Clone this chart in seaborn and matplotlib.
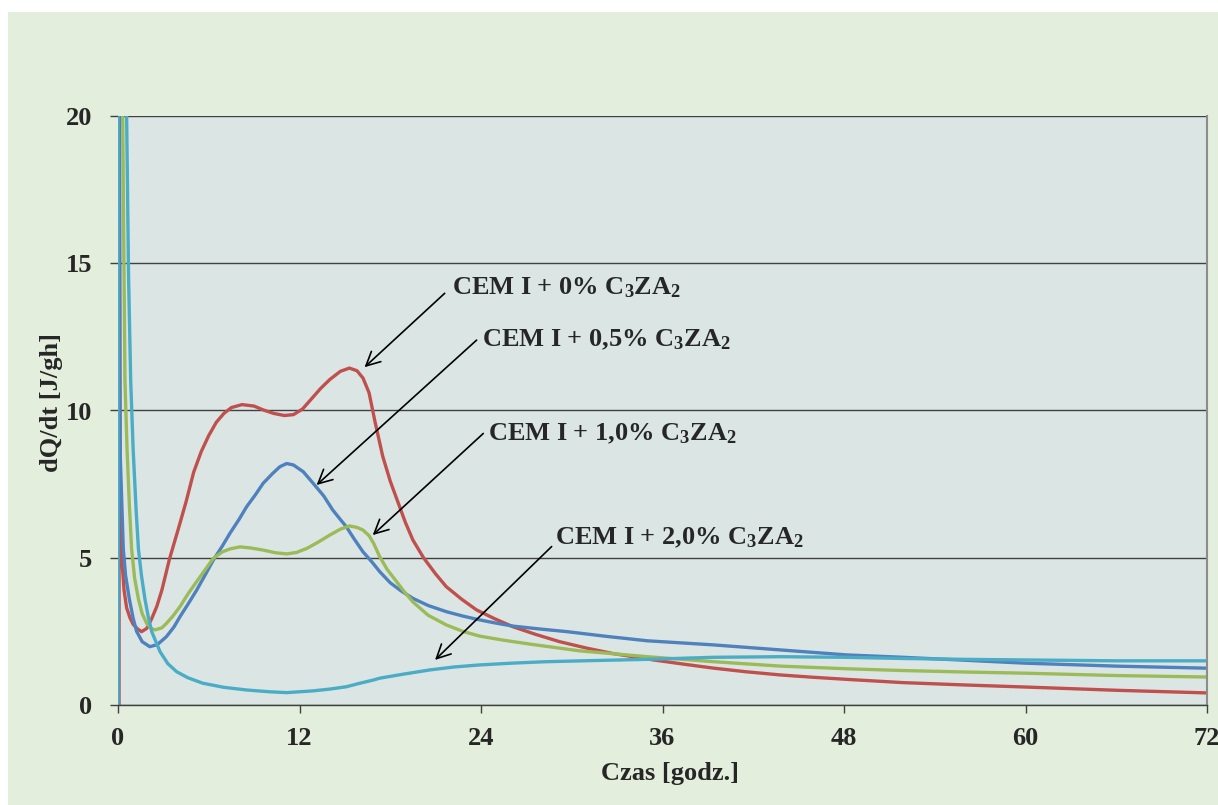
import pandas as pd
import matplotlib
matplotlib.use("Agg")
import matplotlib.pyplot as plt
from matplotlib.patches import Rectangle
import seaborn as sns

# Heat flow curves (time in h, dQ/dt in J/gh)
series_names = ['CEM I + 0%', 'CEM I + 0,5%', 'CEM I + 1,0%', 'CEM I + 2,0%']
series_colors = ['#c0504d', '#4f81bd', '#9bbb59', '#4bacc6']

t_0 = [0.07, 0.08, 0.14, 0.25, 0.4, 0.57, 0.8, 1.0, 1.3, 1.56, 1.9, 2.2, 2.56, 2.9,
       3.4, 4.0, 4.5, 5.0, 5.5, 6.0, 6.5, 7.0, 7.5, 8.2, 9.0, 9.6, 10.3, 11.0, 11.6,
       12.2, 12.8, 13.4, 14.0, 14.7, 15.3, 15.8, 16.2, 16.6, 17.0, 17.5, 18.0, 18.5,
       19.0, 19.5, 20.2, 21.0, 21.7, 22.7, 23.7, 24.9, 26.1, 27.6, 29.2, 31.0, 32.7,
       35.4, 37.5, 39.4, 41.5, 43.8, 46.0, 48.2, 51.9, 56, 60, 66, 72]
q_0 = [0, 22, 8.0, 5.0, 3.9, 3.3, 2.95, 2.74, 2.58, 2.49, 2.6, 2.9, 3.34, 3.9,
       4.95, 6.0, 6.9, 7.9, 8.6, 9.15, 9.6, 9.9, 10.1, 10.2, 10.15, 10.02, 9.9, 9.83, 9.86,
       10.05, 10.4, 10.75, 11.05, 11.33, 11.44, 11.35, 11.1, 10.6, 9.6, 8.45, 7.6, 6.9,
       6.2, 5.6, 5.0, 4.45, 4.02, 3.6, 3.23, 2.93, 2.66, 2.4, 2.15, 1.93, 1.75,
       1.53, 1.38, 1.25, 1.13, 1.02, 0.94, 0.87, 0.76, 0.68, 0.61, 0.5, 0.41]

t_05 = [0.02, 0.03, 0.09, 0.12, 0.14, 0.35, 0.5, 0.75, 1.0, 1.23, 1.6, 2.1, 2.6, 3.2,
        3.7, 4.1, 4.6, 5.2, 5.8, 6.3, 6.9, 7.4, 8.0, 8.5, 9.1, 9.6, 10.2, 10.7, 11.15,
        11.6, 12.25, 12.9, 13.6, 14.2, 14.7, 15.1, 15.6, 16.2, 16.8, 17.3, 18.0, 18.7,
        19.5, 20.5, 21.7, 22.8, 23.9, 25.0, 26.1, 27.9, 29.7, 32.3, 35.0, 39.4, 43.8,
        48.2, 51.9, 56, 60, 66, 72]
q_05 = [0, 24, 20, 11, 8.6, 5.3, 4.4, 3.6, 2.95, 2.5, 2.15, 1.98, 2.05, 2.32,
        2.65, 3.0, 3.4, 3.9, 4.45, 4.92, 5.4, 5.83, 6.3, 6.73, 7.15, 7.53, 7.85, 8.09, 8.2,
        8.15, 7.92, 7.53, 7.1, 6.62, 6.3, 6.05, 5.65, 5.2, 4.85, 4.53, 4.15, 3.88,
        3.62, 3.38, 3.17, 3.02, 2.89, 2.78, 2.68, 2.58, 2.49, 2.33, 2.18, 2.04, 1.87,
        1.70, 1.62, 1.52, 1.42, 1.32, 1.25]

t_10 = [0.25, 0.31, 0.46, 0.6, 0.75, 0.9, 1.1, 1.35, 1.6, 1.9, 2.2, 2.45, 2.9, 3.2,
        3.6, 4.1, 4.6, 5.2, 5.8, 6.3, 6.9, 7.4, 8.07, 8.8, 9.6, 10.4, 11.15, 11.8, 12.5,
        13.3, 14.0, 14.7, 15.3, 15.8, 16.2, 16.6, 16.9, 17.3, 17.8, 18.4, 19.0, 19.5,
        20.5, 21.7, 22.8, 23.9, 25.5, 27.2, 30.5, 35.0, 39.4, 43.8, 48.2, 51.9, 56,
        60, 66, 72]
q_10 = [25, 20, 11, 8.66, 6.8, 5.3, 4.3, 3.6, 3.1, 2.77, 2.6, 2.55, 2.62, 2.77,
        3.0, 3.34, 3.75, 4.19, 4.62, 4.98, 5.2, 5.3, 5.37, 5.33, 5.26, 5.17, 5.13, 5.18, 5.32,
        5.55, 5.77, 5.97, 6.08, 6.03, 5.94, 5.75, 5.49, 5.04, 4.6, 4.2, 3.8, 3.5,
        3.05, 2.72, 2.5, 2.34, 2.2, 2.07, 1.84, 1.64, 1.47, 1.32, 1.23, 1.17, 1.12,
        1.08, 1.0, 0.95]

t_20 = [0.0, 0.01, 0.57, 0.7, 0.84, 1.0, 1.2, 1.35, 1.55, 1.78, 2.0, 2.23, 2.78, 3.3,
        3.88, 4.6, 5.6, 7.0, 8.5, 10.0, 11.15, 12.9, 14.0, 15.1, 16.0, 16.9, 17.3, 18.9,
        20.6, 22.2, 23.9, 26.0, 28.3, 31.5, 35.0, 39.4, 43.8, 48.0, 51.9, 56, 60, 66, 72]
q_20 = [0, 25, 20, 14.5, 11, 8.7, 6.6, 5.3, 4.4, 3.6, 3.0, 2.49, 1.81, 1.4,
        1.13, 0.93, 0.74, 0.6, 0.51, 0.45, 0.42, 0.48, 0.54, 0.62, 0.74, 0.85, 0.91, 1.05,
        1.19, 1.29, 1.36, 1.42, 1.47, 1.51, 1.55, 1.62, 1.64, 1.62, 1.58, 1.55, 1.53, 1.5, 1.5]

x_ticks = [0, 12, 24, 36, 48, 60, 72]
y_ticks = [0, 5, 10, 15, 20]

frames = []
for name, t, q in zip(series_names, [t_0, t_05, t_10, t_20], [q_0, q_05, q_10, q_20]):
    frames.append(pd.DataFrame({'t': t, 'q': q, 'series': name}))
df = pd.concat(frames, ignore_index=True)

sns.set_style("white")
plt.rcParams['font.family'] = ['Liberation Serif', 'DejaVu Serif']
plt.rcParams['font.weight'] = 'bold'
plt.rcParams['mathtext.fontset'] = 'custom'
plt.rcParams['mathtext.rm'] = 'Liberation Serif:bold'
plt.rcParams['mathtext.it'] = 'Liberation Serif:bold'
plt.rcParams['mathtext.bf'] = 'Liberation Serif:bold'
plt.rcParams['mathtext.default'] = 'rm'

fig = plt.figure(figsize=(12.18, 8.05), dpi=100, facecolor='white')
fig.add_artist(Rectangle((8 / 1218, 0), 1, (805 - 12) / 805, transform=fig.transFigure,
                         facecolor='#e4eedc', edgecolor='none', zorder=-10))
ax = fig.add_axes([118 / 1218, 1 - 705 / 805, 1089 / 1218, 589 / 805])
ax.set_facecolor('#dbe6e4')

sns.lineplot(data=df, x='t', y='q', hue='series', palette=series_colors,
             estimator=None, sort=False, lw=2.4, legend=False, ax=ax)

ax.set_xlim(0, 72)
ax.set_ylim(0, 20)
ax.set_xticks(x_ticks)
ax.set_yticks(y_ticks)
ax.yaxis.grid(True, color='#404040', lw=1)
ax.set_axisbelow(True)
for side in ['left', 'top']:
    ax.spines[side].set_visible(False)
ax.spines['right'].set_color('#8c8c8c')
ax.spines['right'].set_linewidth(1.5)
ax.spines['bottom'].set_color('#404040')
ax.spines['bottom'].set_linewidth(1)
ax.tick_params(axis='both', direction='out', length=5.5, width=1, color='#404040',
               labelsize=19, left=True, bottom=True)
ax.tick_params(axis='x', pad=10)
ax.tick_params(axis='y', pad=13)

ax.set_xlabel('Czas [godz.]', fontsize=19, fontweight='bold')
ax.set_ylabel('dQ/dt [J/gh]', fontsize=19, fontweight='bold')
ax.xaxis.set_label_coords(0.507, -0.1155)
ax.xaxis.label.set_va('center')
ax.yaxis.set_label_coords(-0.0615, 0.5136)
ax.yaxis.label.set_va('center')

# labels and arrows pointing at each curve
labels = ['CEM I + 0% C$_3$ZA$_2$', 'CEM I + 0,5% C$_3$ZA$_2$',
          'CEM I + 1,0% C$_3$ZA$_2$', 'CEM I + 2,0% C$_3$ZA$_2$']
label_pos = [(22.06, 14.16), (24.04, 12.39), (24.48, 9.22), (28.89, 5.69)]
arrow_tail = [(21.6, 13.98), (23.71, 12.39), (24.15, 9.22), (28.67, 5.38)]
arrow_tip = [(16.3, 11.47), (13.13, 7.47), (16.84, 5.77), (20.96, 1.53)]

for lab, pos, tail, tip in zip(labels, label_pos, arrow_tail, arrow_tip):
    ax.text(pos[0], pos[1], lab, fontsize=19, fontweight='bold', ha='left', va='center')
    ax.annotate('', xy=tip, xytext=tail,
                arrowprops=dict(arrowstyle='->,head_length=0.5,head_width=0.25',
                                color='black', lw=1.2, shrinkA=0, shrinkB=0,
                                mutation_scale=20))

fig.savefig('out.png', dpi=100, facecolor=fig.get_facecolor())
